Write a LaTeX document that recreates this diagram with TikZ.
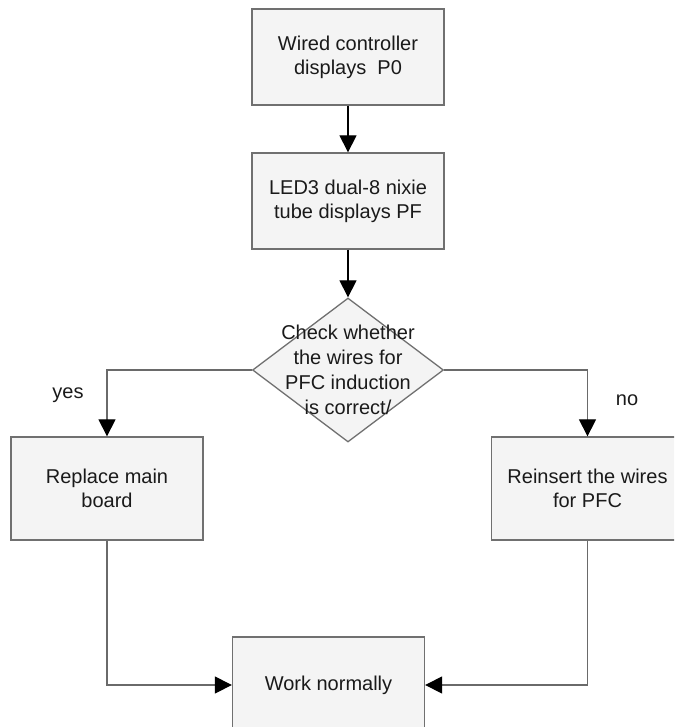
\documentclass[tikz,border=0pt]{standalone}
\usepackage{fontspec}
\setmainfont{Liberation Sans}
\usetikzlibrary{shapes.geometric,arrows.meta}
\definecolor{boxfill}{HTML}{F4F4F4}
\definecolor{boxline}{HTML}{707070}
\definecolor{lineg}{HTML}{6A6A6A}
\definecolor{txt}{HTML}{1A1A1A}
\begin{document}
\begin{tikzpicture}[x=1pt,y=-1pt,
  box/.style={draw=boxline, fill=boxfill, line width=1.3pt, minimum width=192pt,
    minimum height=96pt, align=center, inner sep=0pt, text=txt,
    font=\fontsize{20}{24}\selectfont},
  dia/.style={diamond, draw=boxline, fill=boxfill, line width=1.3pt,
    minimum width=191pt, minimum height=144pt, inner sep=0pt},
  dtext/.style={align=center, text=txt, font=\fontsize{20}{25}\selectfont},
  lbl/.style={text=txt, font=\fontsize{20}{24}\selectfont},
  conn/.style={line width=1.2pt, draw=lineg,
    -{Triangle[width=17pt,length=17pt,color=black]}},
  connk/.style={line width=1.2pt, draw=black,
    -{Triangle[width=17pt,length=17pt]}}]
\useasboundingbox (0,0) rectangle (674,727);
\clip (0,0) rectangle (674,727);
\node[box] (b1) at (348,57) {Wired controller\\displays\ \ P0};
\node[box] (b2) at (348,201) {LED3 dual-8 nixie\\tube displays PF};
\node[dia] (d) at (348,370) {};
\node[dtext] (dt) at (348,370) {Check whether\\the wires for\\PFC induction\\is correct/};
\node[box, minimum height=103pt] (l) at (107,488.5) {Replace main\\board};
\node[box, minimum height=103pt] (r) at (587.5,488.5) {Reinsert the wires\\for PFC};
\node[box] (w) at (328.5,685) {Work normally};
\node[lbl] (yes) at (68,395) {yes};
\node[lbl] (no) at (627,400) {no};
\coordinate (dtop) at (d.north);
\draw[connk] (b1.south) -- (b2.north);
\draw[connk] (b2.south) -- (dtop);
\draw[conn] (d.west) -| (l.north);
\draw[conn] (d.east) -| (r.north);
\draw[conn] (l.south) |- (w.west);
\draw[conn] (r.south) |- (w.east);
\end{tikzpicture}
\end{document}
